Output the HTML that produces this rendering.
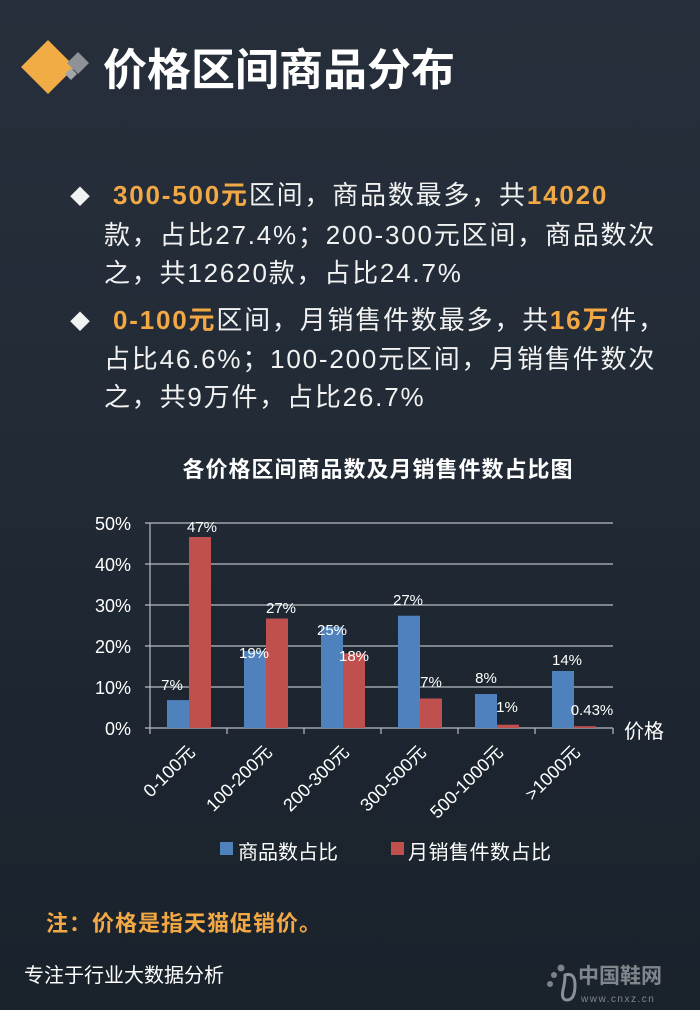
<!DOCTYPE html>
<html><head><meta charset="utf-8"><style>
html,body{margin:0;padding:0;}
body{width:700px;height:1010px;overflow:hidden;background:#1f2834;}
svg{display:block;font-family:"Liberation Sans","Noto Sans CJK SC",sans-serif;}
</style></head><body>
<svg width="700" height="1010" viewBox="0 0 700 1010" xmlns="http://www.w3.org/2000/svg">
<defs>
<linearGradient id="bg" x1="0" y1="0" x2="0" y2="1">
<stop offset="0" stop-color="#262f3b"/>
<stop offset="0.4" stop-color="#222b36"/>
<stop offset="0.7" stop-color="#1d2630"/>
<stop offset="1" stop-color="#1a222c"/>
</linearGradient>
</defs>
<rect width="700" height="1010" fill="url(#bg)"/>
<!-- title icon -->
<polygon points="48,40 75,67 48,94 21,67" fill="#f1ac45"/>
<polygon points="78,52 89,63 78,74 67,63" fill="#8e9296"/>
<polygon points="71,68 77,74 71,80 65,74" fill="#a2a6aa"/>
<text x="103" y="85" font-size="44" font-weight="bold" fill="#ffffff">价格区间商品分布</text>
<!-- bullets -->
<g font-size="26" fill="#f2f2f2" letter-spacing="1.8">
<text x="70" y="204" font-size="20" letter-spacing="0">◆</text>
<text x="113" y="204"><tspan fill="#f2a845" font-weight="bold">300-500元</tspan>区间，商品数最多，共<tspan fill="#f2a845" font-weight="bold">14020</tspan></text>
<text x="104" y="244">款，占比27.4%；200-300元区间，商品数次</text>
<text x="104" y="282">之，共12620款，占比24.7%</text>
<text x="70" y="329" font-size="20" letter-spacing="0">◆</text>
<text x="113" y="329"><tspan fill="#f2a845" font-weight="bold">0-100元</tspan>区间，月销售件数最多，共<tspan fill="#f2a845" font-weight="bold">16万</tspan>件，</text>
<text x="104" y="368">占比46.6%；100-200元区间，月销售件数次</text>
<text x="104" y="406">之，共9万件，占比26.7%</text>
</g>
<text x="378" y="477" font-size="22" font-weight="bold" fill="#ffffff" text-anchor="middle" letter-spacing="1">各价格区间商品数及月销售件数占比图</text>
<!-- grid -->
<g stroke="#b8bcc2" stroke-width="1.2">
<line x1="145" y1="523" x2="613" y2="523"/>
<line x1="145" y1="564" x2="613" y2="564"/>
<line x1="145" y1="605" x2="613" y2="605"/>
<line x1="145" y1="646" x2="613" y2="646"/>
<line x1="145" y1="687" x2="613" y2="687"/>
<line x1="145" y1="728" x2="613" y2="728"/>
<line x1="150" y1="523" x2="150" y2="734"/>
<line x1="227" y1="728" x2="227" y2="734"/><line x1="304" y1="728" x2="304" y2="734"/>
<line x1="381" y1="728" x2="381" y2="734"/><line x1="458" y1="728" x2="458" y2="734"/>
<line x1="535" y1="728" x2="535" y2="734"/><line x1="613" y1="728" x2="613" y2="734"/>
</g>
<g font-size="18" fill="#ffffff" text-anchor="end">
<text x="131" y="530">50%</text><text x="131" y="571">40%</text><text x="131" y="612">30%</text>
<text x="131" y="653">20%</text><text x="131" y="694">10%</text><text x="131" y="735">0%</text>
</g>
<text x="624" y="738" font-size="20" fill="#ffffff">价格</text>
<!-- bars -->
<g fill="#4f81bd">
<rect x="167" y="700.1" width="22" height="27.9"/>
<rect x="244" y="650.9" width="22" height="77.1"/>
<rect x="321" y="626.7" width="22" height="101.3"/>
<rect x="398" y="615.7" width="22" height="112.3"/>
<rect x="475" y="694" width="22" height="34"/>
<rect x="552" y="671" width="22" height="57"/>
</g>
<g fill="#c0504d">
<rect x="189" y="537" width="22" height="191"/>
<rect x="266" y="618.5" width="22" height="109.5"/>
<rect x="343" y="653.4" width="22" height="74.6"/>
<rect x="420" y="698.5" width="22" height="29.5"/>
<rect x="497" y="724.7" width="22" height="3.3"/>
<rect x="574" y="726.2" width="22" height="1.8"/>
</g>
<g font-size="15" fill="#ffffff" text-anchor="middle">
<text x="172" y="690">7%</text><text x="202" y="532">47%</text>
<text x="254" y="658">19%</text><text x="281" y="613">27%</text>
<text x="332" y="635">25%</text><text x="354" y="661">18%</text>
<text x="408" y="605">27%</text><text x="431" y="687">7%</text>
<text x="486" y="683">8%</text><text x="507" y="712">1%</text>
<text x="567" y="665">14%</text><text x="592" y="715">0.43%</text>
</g>
<!-- category labels -->
<g font-size="18" fill="#ffffff" text-anchor="end">
<text transform="translate(196,753) rotate(-45)">0-100元</text>
<text transform="translate(273,753) rotate(-45)">100-200元</text>
<text transform="translate(350,753) rotate(-45)">200-300元</text>
<text transform="translate(427,753) rotate(-45)">300-500元</text>
<text transform="translate(504,753) rotate(-45)">500-1000元</text>
<text transform="translate(581,753) rotate(-45)">&gt;1000元</text>
</g>
<!-- legend -->
<rect x="220" y="842" width="13" height="13" fill="#4f81bd"/>
<text x="238" y="859" font-size="20" fill="#ffffff">商品数占比</text>
<rect x="391" y="842" width="13" height="13" fill="#c0504d"/>
<text x="408" y="859" font-size="20" fill="#ffffff" letter-spacing="0.5">月销售件数占比</text>
<!-- note -->
<text x="46" y="931" font-size="22" font-weight="bold" fill="#f2a845" letter-spacing="1">注：价格是指天猫促销价。</text>
<text x="24" y="982" font-size="20" fill="#ffffff">专注于行业大数据分析</text>
<!-- logo -->
<g fill="#7c8288">
<circle cx="550" cy="984" r="3"/><circle cx="554" cy="975" r="3"/><circle cx="561" cy="968" r="3.5"/>
<path d="M565,975 q10,-3 10,10 q0,15 -8,15 q-6,0 -4,-10 q2,-8 2,-15z" fill="none" stroke="#8a9096" stroke-width="3"/>
</g>
<text x="578" y="983" font-size="21" font-weight="bold" fill="#80868c">中国鞋网</text>
<text x="581" y="1002" font-size="10" fill="#80868c" letter-spacing="1.5">www.cnxz.cn</text>
</svg>
</body></html>
